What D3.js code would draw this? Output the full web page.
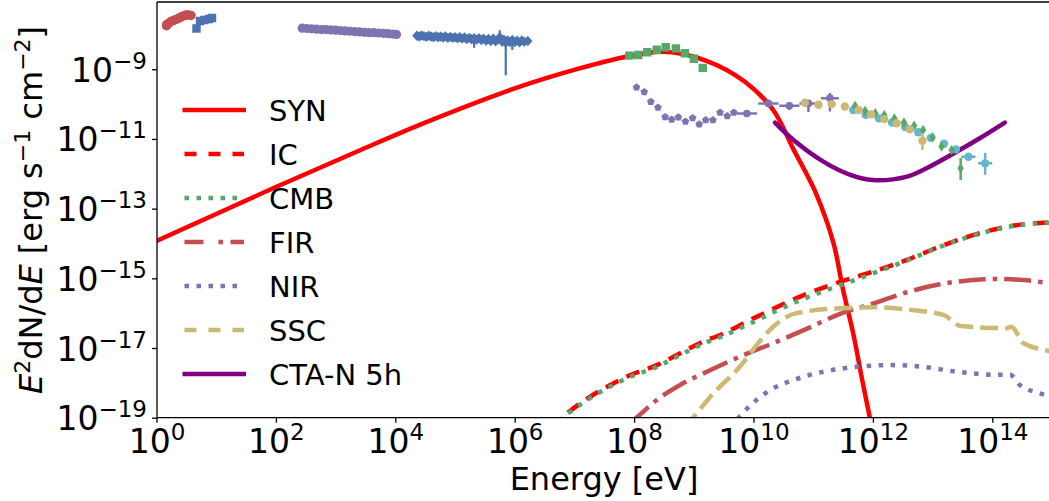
<!DOCTYPE html>
<html>
<head>
<meta charset="utf-8">
<script src="https://cdn.jsdelivr.net/npm/d3@7"></script>
<style>
  body { margin: 0; background: #fff; }
  svg { font-family: "DejaVu Sans", sans-serif; display: block; }
</style>
</head>
<body>
<script>
// all values are log10: [log E (eV), log E^2dN/dE (erg s-1 cm-2)]

// model curves
const synLog = [[-0.2,-14.08],[0,-13.93],[2,-12.38],[3.4,-11.33],[4.5,-10.53],[6,-9.55],[7.1,-8.97],[7.85,-8.65],[8.5,-8.5],[9.2,-8.75],[9.85,-9.35],[10.33,-10.17],[10.67,-11.3],[11.03,-12.5],[11.34,-13.99],[11.5,-15.33],[11.67,-16.58],[11.81,-17.82],[11.95,-19.01],[12.05,-19.8]];
const icLog = [[6.6,-19.3],[6.79,-19.0],[7.26,-18.4],[7.54,-18.12],[7.93,-17.78],[8.38,-17.49],[8.66,-17.25],[9.22,-16.77],[9.38,-16.67],[10.0,-16.15],[10.72,-15.57],[11.45,-15.1],[12.0,-14.81],[12.57,-14.47],[13.12,-14.09],[13.68,-13.76],[14.24,-13.52],[15.1,-13.38]];
const cmbLog = [[6.6,-19.33],[6.79,-19.03],[7.26,-18.44],[7.54,-18.16],[7.93,-17.83],[8.38,-17.54],[8.66,-17.3],[9.22,-16.83],[9.38,-16.73],[10.0,-16.25],[10.72,-15.67],[11.45,-15.2],[12.0,-14.86],[12.57,-14.49],[13.12,-14.1],[13.68,-13.77],[14.24,-13.53],[15.1,-13.39]];
const firLog = [[7.9,-19.2],[8.04,-19.0],[8.38,-18.49],[8.77,-18.06],[9.22,-17.68],[9.77,-17.25],[10.33,-16.86],[10.89,-16.45],[11.45,-16.02],[12.01,-15.72],[12.57,-15.4],[13.12,-15.17],[13.68,-15.05],[14.07,-15.02],[14.52,-15.05],[15.1,-15.18]];
const nirLog = [[9.6,-19.3],[9.75,-19.0],[10.05,-18.49],[10.33,-18.16],[10.67,-17.92],[11.17,-17.68],[11.73,-17.54],[12.29,-17.49],[12.84,-17.54],[13.4,-17.68],[14.13,-17.77],[14.3,-17.77],[14.46,-18.06],[14.8,-18.3],[15.1,-18.45]];
const sscLog = [[8.85,-19.3],[8.99,-19.0],[9.33,-18.3],[9.77,-17.54],[10.08,-16.86],[10.33,-16.39],[10.72,-16.0],[11.45,-15.86],[12.0,-15.83],[12.6,-15.9],[13.18,-16.05],[13.47,-16.37],[14.24,-16.43],[14.32,-16.39],[14.52,-16.86],[15.1,-17.12]];
const ctaLog = [[10.36,-10.53],[10.67,-11.03],[11.17,-11.65],[11.62,-12.03],[12.0,-12.18],[12.57,-12.08],[12.9,-11.84],[13.4,-11.37],[13.79,-10.98],[14.21,-10.53]];

// measured points
const radioPts = [[0.168,-7.75],[0.175,-7.72],[0.201,-7.685],[0.243,-7.628],[0.285,-7.599],[0.327,-7.571],[0.369,-7.542],[0.41,-7.499],[0.452,-7.47],[0.494,-7.447],[0.536,-7.441],[0.578,-7.456]];
const optPts = [[0.67,-7.829],[0.729,-7.614],[0.804,-7.585],[0.879,-7.556],[0.93,-7.528]];
const uvPts = [[2.44,-7.82],[2.52,-7.83],[2.6,-7.84],[2.68,-7.85],[2.76,-7.86],[2.84,-7.86],[2.92,-7.87],[3.0,-7.88],[3.08,-7.89],[3.16,-7.9],[3.24,-7.91],[3.32,-7.92],[3.4,-7.93],[3.48,-7.94],[3.56,-7.95],[3.64,-7.95],[3.72,-7.96],[3.8,-7.97],[3.88,-7.98],[3.96,-7.99],[4.02,-8.0]];
// [logE, logF, down, up] (dex)
const xrayPts = [[4.36,-8.04,0.05,0.05],[4.4,-8.06,0.05,0.05],[4.44,-8.03,0.05,0.05],[4.48,-8.05,0.05,0.05],[4.52,-8.07,0.05,0.05],[4.56,-8.04,0.05,0.05],[4.6,-8.06,0.05,0.05],[4.64,-8.08,0.05,0.05],[4.68,-8.05,0.05,0.05],[4.72,-8.08,0.05,0.05],[4.76,-8.06,0.05,0.05],[4.8,-8.09,0.05,0.05],[4.84,-8.06,0.05,0.05],[4.88,-8.1,0.05,0.05],[4.92,-8.07,0.05,0.05],[4.96,-8.1,0.05,0.05],[5.0,-8.08,0.05,0.05],[5.04,-8.11,0.06,0.05],[5.08,-8.08,0.05,0.05],[5.12,-8.12,0.06,0.05],[5.16,-8.09,0.06,0.06],[5.2,-8.13,0.06,0.06],[5.24,-8.1,0.06,0.06],[5.28,-8.14,0.06,0.06],[5.32,-8.11,0.27,0.06],[5.36,-8.15,0.07,0.06],[5.4,-8.11,0.07,0.07],[5.44,-8.16,0.07,0.07],[5.48,-8.12,0.07,0.07],[5.52,-8.18,0.08,0.07],[5.56,-8.13,0.08,0.07],[5.6,-8.19,0.08,0.08],[5.64,-8.12,0.08,0.08],[5.68,-8.2,0.09,0.08],[5.72,-8.14,0.09,0.09],[5.75,-8.08,0.07,0.2],[5.79,-8.21,0.1,0.09],[5.82,-8.15,0.1,0.09],[5.85,-8.24,0.93,0.1],[5.88,-8.17,0.12,0.1],[5.92,-8.22,0.12,0.1],[5.96,-8.16,0.29,0.1],[6.0,-8.22,0.1,0.1],[6.04,-8.18,0.1,0.12],[6.08,-8.23,0.1,0.08],[6.12,-8.17,0.08,0.1],[6.16,-8.21,0.08,0.08],[6.22,-8.19,0.06,0.06]];
const fermiSedPts = [[7.92,-8.61],[8.07,-8.59],[8.22,-8.51],[8.38,-8.44],[8.53,-8.37],[8.7,-8.4],[8.85,-8.54],[9.0,-8.7],[9.15,-8.96,0.08,0.03]];
const fermiLowPts = [[8.04,-9.52],[8.17,-9.65],[8.28,-9.93],[8.4,-10.1],[8.52,-10.37],[8.63,-10.44],[8.74,-10.38],[8.86,-10.5],[8.98,-10.4],[9.09,-10.58],[9.2,-10.46],[9.32,-10.46],[9.44,-10.24],[9.56,-10.34],[9.67,-10.24]];
// [logE, logF, down, up, left, right]
const fermiHighPts = [[9.89,-10.27,0.07,0.07,0.17,0.17],[10.25,-9.98,0.08,0.08,0.17,0.17],[10.6,-10.05,0.12,0.1,0.17,0.17],[10.92,-9.98,0.25,0.1,0.15,0.15],[11.28,-9.83,0.38,0.15,0.15,0.15]];
const iactPts = [[10.86,-9.96,0.04,0.04],[11.09,-10.02,0.04,0.04],[11.31,-10.0,0.1,0.1],[11.53,-10.07,0.04,0.04],[11.76,-10.17,0.04,0.04],[11.97,-10.29,0.04,0.04],[12.19,-10.43,0.04,0.04],[12.4,-10.55,0.05,0.05],[12.62,-10.72,0.06,0.06],[12.83,-11.05,0.27,0.22]];
const lhaasoPts = [[11.67,-10.17,0.04,0.04,0,0],[11.88,-10.31,0.04,0.04,0,0],[12.1,-10.41,0.04,0.04,0,0],[12.32,-10.53,0.04,0.04,0,0],[12.54,-10.66,0.04,0.04,0,0],[12.76,-10.81,0.04,0.04,0,0],[12.97,-10.97,0.05,0.05,0,0],[13.19,-11.14,0.05,0.05,0,0],[13.39,-11.3,0.06,0.06,0,0],[13.6,-11.51,0.08,0.08,0.12,0.12],[13.88,-11.7,0.33,0.3,0.12,0.12]];
const hawcPts = [[11.7,-10.05,0.04,0.04],[11.87,-10.19,0.04,0.04],[12.04,-10.26,0.04,0.04],[12.19,-10.31,0.04,0.04],[12.36,-10.41,0.04,0.04],[12.52,-10.53,0.05,0.05],[12.69,-10.62,0.05,0.05],[12.84,-10.74,0.05,0.05],[13.0,-10.95,0.06,0.06],[13.15,-11.22,0.07,0.07],[13.32,-11.32,0.08,0.08],[13.47,-11.84,0.34,0.29]];

const xTicks = [0, 2, 4, 6, 8, 10, 12, 14];
const yTicks = [-19, -17, -15, -13, -11, -9];

const legendItems = [
  {label: "SYN", color: "#ff0000", dash: null},
  {label: "IC", color: "#ff0000", dash: "12,12"},
  {label: "CMB", color: "#55a868", dash: "4.5,7.5"},
  {label: "FIR", color: "#c44e52", dash: "19,15,4.5,7.5"},
  {label: "NIR", color: "#8172b2", dash: "4.5,7.5"},
  {label: "SSC", color: "#ccb974", dash: "12,12"},
  {label: "CTA-N 5h", color: "#800080", dash: null}
];

const W = 1049, H = 501;
const svg = d3.select("body").append("svg").attr("width", W).attr("height", H);

const x = d3.scaleLog().domain([1, 1e15]).range([156.5, 1052]);
const y = d3.scaleLog().domain([1e-19, Math.pow(10, -7.07)]).range([417.7, 2]);
const px = d => x(Math.pow(10, d[0]));
const py = d => y(Math.pow(10, d[1]));

svg.append("clipPath").attr("id", "plotclip")
  .append("rect").attr("x", 157).attr("y", 2).attr("width", 900).attr("height", 415.7);

const plot = svg.append("g").attr("clip-path", "url(#plotclip)");

function curve(data, color, dash, smooth) {
  const line = d3.line().x(px).y(py).curve(smooth ? d3.curveCatmullRom.alpha(0.5) : d3.curveMonotoneX);
  plot.append("path")
    .datum(data)
    .attr("d", line)
    .attr("fill", "none")
    .attr("stroke", color)
    .attr("stroke-width", 4.5)
    .attr("stroke-dasharray", dash)
    .attr("stroke-linecap", dash ? "butt" : "round");
}

curve(synLog, "#ff0000", null, true);
curve(icLog, "#ff0000", "14,9");
curve(cmbLog, "#55a868", "4.5,7.5");
curve(firLog, "#c44e52", "27,7,4.5,7");
curve(nirLog, "#8172b2", "4.5,7.5");
curve(sscLog, "#ccb974", "18,7");
curve(ctaLog, "#800080", null, true);

// error bars
function errbars(data, color, width) {
  const g = plot.append("g").attr("stroke", color).attr("stroke-width", width);
  data.forEach(d => {
    if (d[2] || d[3]) {
      g.append("line")
        .attr("x1", px(d)).attr("x2", px(d))
        .attr("y1", y(Math.pow(10, d[1] - d[2]))).attr("y2", y(Math.pow(10, d[1] + d[3])));
    }
    if (d[4] || d[5]) {
      g.append("line")
        .attr("y1", py(d)).attr("y2", py(d))
        .attr("x1", x(Math.pow(10, d[0] - d[4]))).attr("x2", x(Math.pow(10, d[0] + d[5])));
    }
  });
}

function circles(data, color, r) {
  plot.append("g").selectAll("circle").data(data).join("circle")
    .attr("cx", px).attr("cy", py).attr("r", r).attr("fill", color);
}

function polys(data, color, ptsFn) {
  plot.append("g").selectAll("path").data(data).join("path")
    .attr("d", d => {
      const cx = px(d), cy = py(d);
      return "M" + ptsFn().map(p => (cx + p[0]) + "," + (cy + p[1])).join("L") + "Z";
    })
    .attr("fill", color);
}

const square = s => () => [[-s, -s], [s, -s], [s, s], [-s, s]];
const diamond = (w, h) => () => [[0, -h], [w, 0], [0, h], [-w, 0]];
const pentagon = r => () => d3.range(5).map(k => {
  const a = -Math.PI / 2 + k * 2 * Math.PI / 5;
  return [r * Math.cos(a), r * Math.sin(a)];
});

circles(radioPts, "#c44e52", 4.8);
polys(optPts, "#4c72b0", square(4.2));
circles(uvPts, "#8172b2", 4.6);
errbars(xrayPts, "#4c72b0", 2.2);
polys(xrayPts, "#4c72b0", diamond(4.6, 5.2));
errbars(fermiSedPts, "#55a868", 2);
polys(fermiSedPts, "#55a868", square(4.2));
polys(fermiLowPts, "#8172b2", pentagon(4));
errbars(fermiHighPts, "#8172b2", 2.5);
circles(fermiHighPts, "#8172b2", 3.8);
errbars(lhaasoPts, "#64b5cd", 2.5);
circles(lhaasoPts, "#64b5cd", 4.2);
errbars(hawcPts, "#55a868", 2.5);
polys(hawcPts, "#55a868", diamond(3.2, 5.2));
errbars(iactPts, "#ccb974", 2.5);
circles(iactPts, "#ccb974", 4.2);

// axes
const xAxis = d3.axisBottom(x).tickValues(xTicks.map(e => Math.pow(10, e))).tickSize(5).tickFormat("");
const yAxis = d3.axisLeft(y).tickValues(yTicks.map(e => Math.pow(10, e))).tickSize(5).tickFormat("");

const gx = svg.append("g").attr("transform", "translate(0,417.7)").call(xAxis);
const gy = svg.append("g").attr("transform", "translate(157,0)").call(yAxis);
[gx, gy].forEach(g => {
  g.select(".domain").remove();
  g.selectAll(".tick line").attr("stroke", "#000").attr("stroke-width", 1.3);
});

function powLabel(sel, exp) {
  sel.append("tspan").text("10");
  sel.append("tspan").attr("dy", -13).attr("font-size", 23).text(String(exp).replace("-", "\u2212"));
}

gx.selectAll(".tick").each(function(d, i) {
  const t = d3.select(this).append("text")
    .attr("y", 35.5).attr("text-anchor", "middle").attr("fill", "#000")
    .attr("font-size", 33).attr("font-family", "DejaVu Sans");
  powLabel(t, xTicks[i]);
});
gy.selectAll(".tick").each(function(d, i) {
  const t = d3.select(this).append("text")
    .attr("x", -10).attr("y", 12).attr("text-anchor", "end").attr("fill", "#000")
    .attr("font-size", 33).attr("font-family", "DejaVu Sans");
  powLabel(t, yTicks[i]);
});

// frame
svg.append("g").attr("fill", "none").attr("stroke", "#000").attr("stroke-width", 1.3)
  .selectAll("line")
  .data([[157, 2, 157, 417.7], [157, 417.7, 1049, 417.7], [157, 2, 1049, 2]])
  .join("line")
  .attr("x1", d => d[0]).attr("y1", d => d[1]).attr("x2", d => d[2]).attr("y2", d => d[3]);

// axis labels
svg.append("text")
  .attr("x", 604).attr("y", 490).attr("text-anchor", "middle")
  .attr("font-size", 32).text("Energy [eV]");

const yl = svg.append("text")
  .attr("transform", "translate(42,210) rotate(-90)")
  .attr("text-anchor", "middle").attr("font-size", 32);
yl.append("tspan").attr("font-style", "italic").text("E");
yl.append("tspan").attr("dy", -12).attr("font-size", 22).text("2");
yl.append("tspan").attr("dy", 12).text("dN/d");
yl.append("tspan").attr("font-style", "italic").text("E");
yl.append("tspan").text(" [erg s");
yl.append("tspan").attr("dy", -12).attr("font-size", 22).text("\u22121");
yl.append("tspan").attr("dy", 12).text(" cm");
yl.append("tspan").attr("dy", -12).attr("font-size", 22).text("\u22122");
yl.append("tspan").attr("dy", 12).text("]");

// legend
const leg = svg.append("g").selectAll("g").data(legendItems).join("g")
  .attr("transform", (d, i) => "translate(0," + (110 + i * 44) + ")");
leg.append("line")
  .attr("x1", d => d.dash ? 184.5 : 182.5).attr("x2", d => d.dash ? 244 : 246)
  .attr("stroke", d => d.color).attr("stroke-width", 4.5)
  .attr("stroke-dasharray", d => d.dash);
leg.append("text")
  .attr("x", 269).attr("y", 10.5).attr("font-size", 29).text(d => d.label);
</script>
</body>
</html>
